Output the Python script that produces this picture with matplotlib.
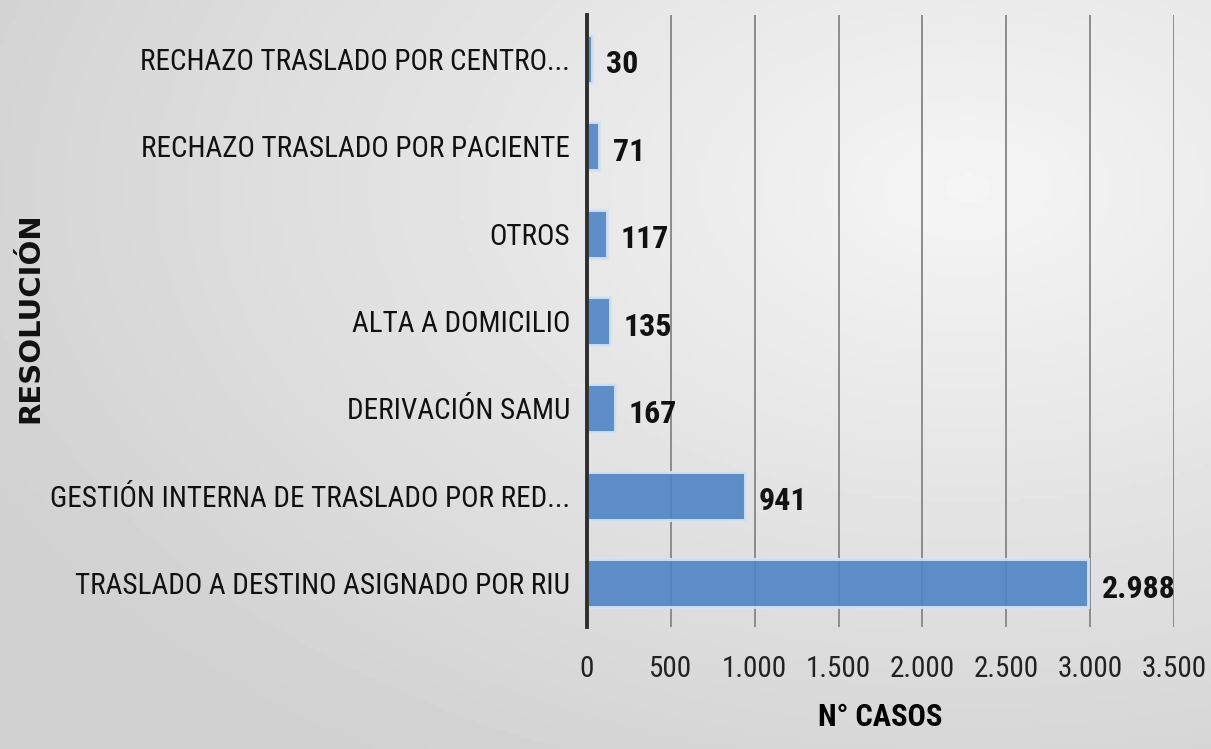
import matplotlib
matplotlib.use("Agg")
import matplotlib.pyplot as plt
from matplotlib import font_manager as fm
import numpy as np

categorias = [
    "TRASLADO A DESTINO ASIGNADO POR RIU",
    "GESTIÓN INTERNA DE TRASLADO POR RED...",
    "DERIVACIÓN SAMU",
    "ALTA A DOMICILIO",
    "OTROS",
    "RECHAZO TRASLADO POR PACIENTE",
    "RECHAZO TRASLADO POR CENTRO...",
]
casos = [2988, 941, 167, 135, 117, 71, 30]
etiquetas = ["2.988", "941", "167", "135", "117", "71", "30"]
ticks_x = [0, 500, 1000, 1500, 2000, 2500, 3000, 3500]
ticks_txt = ["0", "500", "1.000", "1.500", "2.000", "2.500", "3.000", "3.500"]

# fuente angosta disponible
nombres = set(f.name for f in fm.fontManager.ttflist)
fuente = "DejaVu Sans"
for cand in ["Roboto Condensed", "IBM Plex Sans Condensed", "PT Sans Narrow", "Open Sans Condensed"]:
    if cand in nombres:
        fuente = cand
        break

fig = plt.figure(figsize=(12.11, 7.49), dpi=100)

# fondo degradado gris
bg = fig.add_axes([0, 0, 1, 1], zorder=-10)
yy, xx = np.mgrid[0:1:200j, 0:1:300j]
d = np.sqrt((xx - 0.8) ** 2 + (yy - 0.25) ** 2)
val = 0.96 - 0.14 * np.clip(d / 0.9, 0, 1)
bg.imshow(val, cmap="gray", vmin=0, vmax=1, aspect="auto", extent=[0, 1, 0, 1], origin="upper")
bg.axis("off")

ax = fig.add_axes([587 / 1211, 1 - 627 / 749, (1174 - 587) / 1211, (627 - 15) / 749])
ax.patch.set_alpha(0)

y = np.arange(len(categorias))
ax.barh(y, casos, height=0.55, color="#4f84c4", alpha=0.9, edgecolor="#d4e3f5", linewidth=2.2, zorder=3)

for yi, v, t in zip(y, casos, etiquetas):
    ax.annotate(t, (v, yi), xytext=(10, -4), textcoords="offset points", va="center", ha="left",
                fontsize=23, fontweight="bold", family=fuente, color="#111111")

ax.set_xlim(0, 3500)
ax.set_ylim(-0.5, len(categorias) - 0.5)
ax.set_xticks(ticks_x)
ax.set_xticklabels(ticks_txt, family=fuente, fontsize=21, color="#222222")
ax.set_yticks(y)
ax.set_yticklabels(categorias, family=fuente, fontsize=21, color="#111111")
ax.tick_params(axis="both", length=0)
ax.tick_params(axis="x", pad=20)
ax.tick_params(axis="y", pad=12)

ax.grid(axis="x", color="#8c8c8c", linewidth=1.4, zorder=0)
for s in ["top", "right", "bottom"]:
    ax.spines[s].set_visible(False)
ax.spines["left"].set_linewidth(2.8)
ax.spines["left"].set_color("#2e2e2e")
ax.spines["left"].set_zorder(4)

ax.set_xlabel("N° CASOS", family=fuente, fontsize=22, fontweight="bold", labelpad=14)
fig.text(30 / 1211, 1 - 318 / 749, "RESOLUCIÓN", rotation=90, fontsize=21, fontweight="bold",
         family="DejaVu Sans", ha="center", va="center", color="#111111")

fig.savefig("out.png", dpi=100)
